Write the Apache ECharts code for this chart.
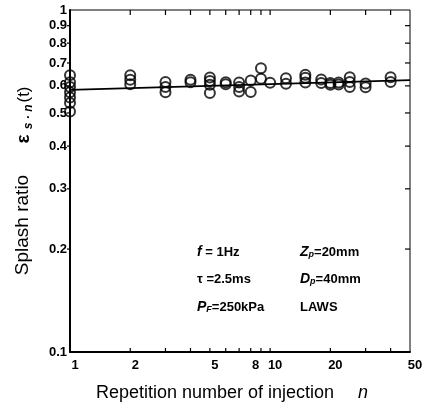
<!DOCTYPE html>
<html><head><meta charset="utf-8">
<script src="https://cdn.jsdelivr.net/npm/echarts@6/dist/echarts.min.js"></script>
<style>html,body{margin:0;padding:0;background:#fff}#c{width:430px;height:408px}</style>
</head><body><div id="c"></div>
<script>
// Repetition number n and measured splash ratios at each n
const repN = [1, 2, 3, 4, 5, 6, 7, 8, 9, 10, 12, 15, 18, 20, 22, 25, 30, 40];
const ratioSets = [
  [0.645, 0.615, 0.595, 0.575, 0.555, 0.535, 0.505],
  [0.645, 0.625, 0.607],
  [0.616, 0.595, 0.575],
  [0.625, 0.615],
  [0.635, 0.620, 0.605, 0.572],
  [0.615, 0.607],
  [0.614, 0.595, 0.578],
  [0.622, 0.576],
  [0.676, 0.630],
  [0.613],
  [0.632, 0.609],
  [0.647, 0.634, 0.614],
  [0.626, 0.612],
  [0.612, 0.605],
  [0.614, 0.606],
  [0.636, 0.616, 0.595],
  [0.610, 0.594],
  [0.636, 0.616]
];
// fitted line
const fitN = [1, 50];
const fitRatio = [0.584, 0.624];
// tick labels
const xTickLabels = [1, 2, 5, 8, 10, 20, 50];
const xTickMarks = [2, 3, 4, 5, 6, 7, 8, 9, 10, 20, 30, 40];
const yTickLabels = [1, 0.9, 0.8, 0.7, 0.6, 0.5, 0.4, 0.3, 0.2, 0.1];
const yTickMarks = [0.2, 0.3, 0.4, 0.5, 0.6, 0.7, 0.8, 0.9];

const FONT = '"Liberation Sans", Arial, Helvetica, sans-serif';
const chart = echarts.init(document.getElementById('c'), null, {renderer: 'canvas'});
const pts = [];
repN.forEach((n, i) => ratioSets[i].forEach(v => pts.push([n, v])));

chart.setOption({
  animation: false,
  backgroundColor: '#fff',
  grid: {left: 70, right: 20, top: 10, bottom: 56, show: true, borderColor: '#000', borderWidth: 1, backgroundColor: 'transparent'},
  xAxis: {type: 'log', logBase: 10, min: 1, max: 50,
    axisLine: {show: true, onZero: false, lineStyle: {color: '#000', width: 2}},
    axisTick: {show: false}, axisLabel: {show: false}, splitLine: {show: false}},
  yAxis: {type: 'log', logBase: 10, min: 0.1, max: 1,
    axisLine: {show: true, onZero: false, lineStyle: {color: '#000', width: 2}},
    axisTick: {show: false}, axisLabel: {show: false}, splitLine: {show: false}},
  series: [
    {type: 'line', data: fitN.map((n, i) => [n, fitRatio[i]]), symbol: 'none',
      lineStyle: {color: '#000', width: 1.8}, z: 2},
    {type: 'scatter', data: pts, symbol: 'circle', symbolSize: 10,
      itemStyle: {color: 'rgba(0,0,0,0)', borderColor: '#000', borderWidth: 2}, z: 3}
  ]
});

function px(x, y) { return chart.convertToPixel({gridIndex: 0}, [x, y]); }
const c0 = px(1, 0.1), c1 = px(50, 1);
const L = c0[0], B = c0[1], R = c1[0], T = c1[1];
const g = [];
const stroke = {stroke: '#000', lineWidth: 1.2};
xTickMarks.forEach(n => {
  const x = px(n, 1)[0];
  g.push({type: 'line', shape: {x1: x, y1: T, x2: x, y2: T + 5}, style: stroke});
  g.push({type: 'line', shape: {x1: x, y1: B, x2: x, y2: B - 4}, style: stroke});
});
yTickMarks.forEach(v => {
  const y = px(1, v)[1];
  g.push({type: 'line', shape: {x1: L - 3, y1: y, x2: L, y2: y}, style: stroke});
  g.push({type: 'line', shape: {x1: R, y1: y, x2: R - 5, y2: y}, style: stroke});
});
const tickFont = {fill: '#000', fontSize: 13, fontWeight: 'bold', fontFamily: FONT};
xTickLabels.forEach(n => {
  const x = px(n, 0.1)[0];
  g.push({type: 'text', x: x + 5, y: B + 7, style: Object.assign({text: String(n), align: 'center', verticalAlign: 'top'}, tickFont)});
});
yTickLabels.forEach(v => {
  const y = px(1, v)[1];
  g.push({type: 'text', x: L - 3, y: y, style: Object.assign({text: String(v), align: 'right', verticalAlign: 'middle'}, tickFont)});
});
// axis titles
g.push({type: 'text', x: 215, y: 393, style: {text: 'Repetition number of injection', align: 'center', verticalAlign: 'middle', fill: '#000', fontSize: 18, fontFamily: FONT}});
g.push({type: 'text', x: 363, y: 393, style: {text: 'n', align: 'center', verticalAlign: 'middle', fill: '#000', fontSize: 18, fontStyle: 'italic', fontFamily: FONT}});
g.push({type: 'text', x: 23, y: 225, rotation: Math.PI / 2, style: {text: 'Splash ratio', align: 'center', verticalAlign: 'middle', fill: '#000', fontSize: 19, fontFamily: FONT}});
g.push({type: 'text', x: 24, y: 115, rotation: Math.PI / 2, style: {
  text: '{e|ε}{s| s · n}{t|(t)}', align: 'center', verticalAlign: 'middle', fill: '#000', fontFamily: FONT,
  rich: {
    e: {fontSize: 19, fontWeight: 'bold', fontFamily: FONT, lineHeight: 22, verticalAlign: 'middle'},
    s: {fontSize: 12, fontStyle: 'italic', fontWeight: 'bold', fontFamily: FONT, lineHeight: 22, verticalAlign: 'bottom', padding: [6, 2, 0, 2]},
    t: {fontSize: 17, fontFamily: FONT, lineHeight: 22, verticalAlign: 'middle'}
  }}});
// annotations
const ann = {fill: '#000', fontSize: 13, fontFamily: FONT, verticalAlign: 'middle', align: 'left',
  rich: {
    i: {fontSize: 14, fontStyle: 'italic', fontWeight: 'bold', fontFamily: FONT},
    b: {fontSize: 9, fontStyle: 'italic', fontWeight: 'bold', fontFamily: FONT, verticalAlign: 'bottom', padding: [5, 0, 0, 0]},
    r: {fontSize: 13, fontWeight: 'bold', fontFamily: FONT}
  }};
const annItems = [
  [197, 252, '{i|f}{r| = 1Hz}'],
  [300, 252, '{i|Z}{b|p}{r|=20mm}'],
  [197, 279, '{r|τ =2.5ms}'],
  [300, 279, '{i|D}{b|p}{r|=40mm}'],
  [197, 307, '{i|P}{b|F}{r|=250kPa}'],
  [300, 307, '{r|LAWS}']
];
annItems.forEach(a => g.push({type: 'text', x: a[0], y: a[1], style: Object.assign({text: a[2]}, ann)}));
chart.setOption({graphic: g});
</script></body></html>
